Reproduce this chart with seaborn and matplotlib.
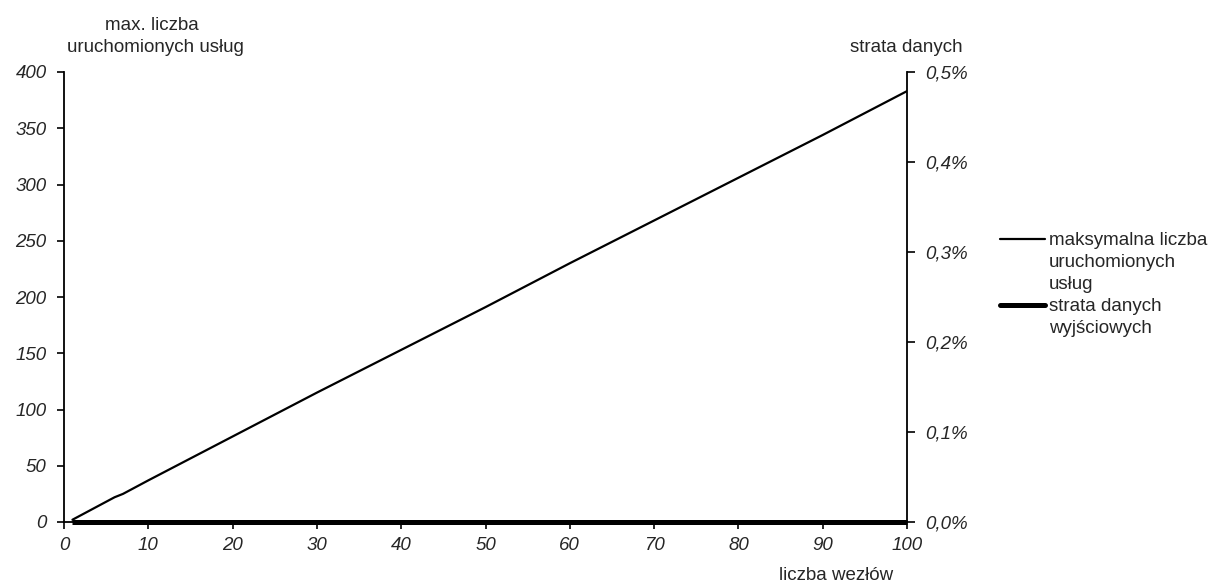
import matplotlib
matplotlib.use("Agg")
import matplotlib.pyplot as plt
import seaborn as sns
import pandas as pd
from matplotlib.lines import Line2D
from matplotlib.ticker import FuncFormatter

# Maximum number of running services vs. number of nodes
nodes = [1, 2, 3, 4, 5, 6, 7, 8, 9, 10, 20, 30, 40, 50, 60, 70, 80, 90, 100]
max_services = [2, 6, 10, 14, 18, 22, 25, 29, 33, 37, 76, 115, 153, 191, 230, 268, 306, 344, 383]

# Output data loss (fraction), zero across the whole range
loss_nodes = [1, 100]
loss_values = [0.0, 0.0]

x_ticks = [0, 10, 20, 30, 40, 50, 60, 70, 80, 90, 100]
y_ticks = [0, 50, 100, 150, 200, 250, 300, 350, 400]
y2_ticks = [0.0, 0.001, 0.002, 0.003, 0.004, 0.005]

FS = 13.5

sns.set_theme(style="white")
plt.rcParams["font.family"] = ["Liberation Sans", "DejaVu Sans"]

fig = plt.figure(figsize=(12.14, 5.82), dpi=100)
ax = fig.add_axes([64 / 1214, 1 - 522 / 582, (907 - 64) / 1214, (522 - 72) / 582])
ax2 = ax.twinx()

df1 = pd.DataFrame({"nodes": nodes, "services": max_services})
df2 = pd.DataFrame({"nodes": loss_nodes, "loss": loss_values})

sns.lineplot(data=df1, x="nodes", y="services", ax=ax, color="black", linewidth=1.6, zorder=3)
sns.lineplot(data=df2, x="nodes", y="loss", ax=ax2, color="black", linewidth=3.6,
             solid_capstyle="butt", clip_on=False, zorder=4)

ax.set_xlim(0, 100)
ax.set_ylim(0, 400)
ax2.set_ylim(0, 0.005)
ax.set_xticks(x_ticks)
ax.set_yticks(y_ticks)
ax2.set_yticks(y2_ticks)
ax2.yaxis.set_major_formatter(FuncFormatter(lambda v, p: f"{v * 100:.1f}%".replace(".", ",")))

for a in (ax, ax2):
    a.set_xlabel("")
    a.set_ylabel("")
    a.grid(False)
    for s in a.spines.values():
        s.set_color("black")
        s.set_linewidth(1.3)
    a.spines["top"].set_visible(False)

ax.spines["right"].set_visible(False)
ax2.spines["left"].set_visible(False)
ax2.spines["bottom"].set_visible(False)

ax.tick_params(axis="x", direction="out", length=5, width=1.2, color="black",
               labelsize=FS, pad=6, bottom=True)
ax.tick_params(axis="y", direction="out", length=5, width=1.2, color="black",
               labelsize=FS, pad=7.5, left=True)
ax2.tick_params(axis="y", direction="out", length=5.5, width=1.2, color="black",
                labelsize=FS, pad=7.5, right=True)
for lbl in ax.get_xticklabels() + ax.get_yticklabels() + ax2.get_yticklabels():
    lbl.set_fontstyle("italic")

fig.text(152 / 1214, 1 - 25 / 582, "max. liczba", ha="center", va="center", fontsize=FS)
fig.text(155 / 1214, 1 - 47 / 582, "uruchomionych usług", ha="center", va="center", fontsize=FS)
fig.text(906 / 1214, 1 - 47 / 582, "strata danych", ha="center", va="center", fontsize=FS)
fig.text(836 / 1214, 1 - 575 / 582, "liczba wezłów", ha="center", va="center", fontsize=FS)

# Legend: the line sample sits beside the first line of each wrapped label
blank = Line2D([], [], color="none", linewidth=0)
handles = [Line2D([], [], color="black", linewidth=1.6), blank, blank,
           Line2D([], [], color="black", linewidth=3.6), blank]
labels = ["maksymalna liczba", "uruchomionych", "usług", "strata danych", "wyjściowych"]
fig.legend(handles, labels, loc="upper left", bbox_to_anchor=(1000 / 1214, 1 - 232 / 582),
           frameon=False, fontsize=FS, handlelength=2.4, handletextpad=0.2,
           labelspacing=0.26, borderaxespad=0, borderpad=0)

fig.savefig("out.png", dpi=100)
